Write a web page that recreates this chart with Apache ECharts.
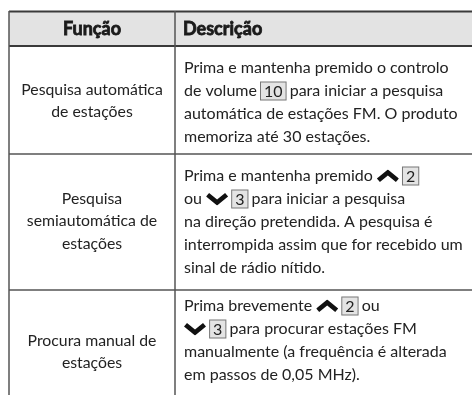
<!DOCTYPE html>
<html><head><meta charset="utf-8">
<script src="https://cdn.jsdelivr.net/npm/echarts@6/dist/echarts.min.js"></script>
<style>html,body{margin:0;padding:0;background:#fff}#c{width:472px;height:395px}</style>
</head><body><div id="c"></div>
<script>
// ---- data ----
var headers = ['Função', 'Descrição'];
var functions = [
  ['Pesquisa automática', 'de estações'],
  ['Pesquisa', 'semiautomática de', 'estações'],
  ['Procura manual de', 'estações']
];
// tokens: {up}, {down}, [n] = boxed reference number
var descriptions = [
  ['Prima e mantenha premido o controlo',
   'de volume [10] para iniciar a pesquisa',
   'automática de estações FM. O produto',
   'memoriza até 30 estações.'],
  ['Prima e mantenha premido {up} [2]',
   'ou {down} [3] para iniciar a pesquisa',
   'na direção pretendida. A pesquisa é',
   'interrompida assim que for recebido um',
   'sinal de rádio nítido.'],
  ['Prima brevemente {up} [2] ou',
   '{down} [3] para procurar estações FM',
   'manualmente (a frequência é alterada',
   'em passos de 0,05 MHz).']
];

(function () {
// ---- layout ----
var FONT = 'Lato';
var FS = 16;
var FSL = 15.8;
var X0 = 9, colDiv = 175, X1 = 490;
var rowTops = [11, 46, 154, 290, 420];
var lineH = 23;
var textX = 184;

function svgUrl(path) {
  var s = '<svg xmlns="http://www.w3.org/2000/svg" width="44" height="26" viewBox="0 0 44 26"><path d="' + path + '" fill="#111"/></svg>';
  return 'data:image/svg+xml;charset=utf-8,' + encodeURIComponent(s);
}
var upImg = svgUrl('M22 0 L44 18 L38 25 L22 12 L6 25 L0 18 Z');
var downImg = svgUrl('M22 26 L44 8 L38 1 L22 14 L6 1 L0 8 Z');

var rich = {
  t: {fontFamily: FONT, fontSize: FS, fill: '#222'},
  box: {fontFamily: FONT, fontSize: FS, fill: '#222', backgroundColor: '#e4e4e4',
        borderColor: '#777', borderWidth: 1, padding: [1, 3, 0, 3], lineHeight: 18},
  up: {backgroundColor: {image: upImg}, width: 22, height: 13},
  down: {backgroundColor: {image: downImg}, width: 22, height: 13}
};

function toRich(line) {
  var out = '';
  var re = /(\{up\}|\{down\}|\[\d+\])/g;
  var last = 0, m;
  while ((m = re.exec(line)) !== null) {
    if (m.index > last) out += '{t|' + line.slice(last, m.index) + '}';
    var tok = m[0];
    if (tok === '{up}') out += '{up|}';
    else if (tok === '{down}') out += '{down|}';
    else out += '{box|' + tok.slice(1, -1) + '}';
    last = m.index + tok.length;
  }
  if (last < line.length) out += '{t|' + line.slice(last) + '}';
  return out;
}

var chart = echarts.init(document.getElementById('c'));
chart.setOption({animation: false, series: []});
var zr = chart.getZr();
var G = echarts.graphic;
function add(el) { zr.add(el); }

add(new G.Rect({shape: {x: X0, y: rowTops[0], width: X1 - X0, height: rowTops[1] - rowTops[0]},
  style: {fill: '#e3e3e3'}, silent: true}));
var hy = (rowTops[0] + rowTops[1]) / 2 + 0.5;
var hStyle = {fontFamily: FONT, fontWeight: 'bold', fontSize: 18, fill: '#1a1a1a',
  stroke: '#1a1a1a', lineWidth: 0.8, verticalAlign: 'middle'};
add(new G.Text({x: (X0 + colDiv) / 2, y: hy, style: echarts.util.extend({text: headers[0], align: 'center'}, hStyle)}));
add(new G.Text({x: textX - 1, y: hy, style: echarts.util.extend({text: headers[1], align: 'left'}, hStyle)}));

var leftOffsets = [1, -1, 0];
for (var r = 0; r < functions.length; r++) {
  var rt = rowTops[r + 1], rb = rowTops[r + 2];
  var cy = r === 2 ? 352 : (rt + rb) / 2 + leftOffsets[r];
  var fl = functions[r];
  for (var i = 0; i < fl.length; i++) {
    add(new G.Text({x: (X0 + colDiv) / 2, y: cy + (i - (fl.length - 1) / 2) * 22.5,
      style: {text: fl[i], fontFamily: FONT, fontSize: FSL, fill: '#222', align: 'center', verticalAlign: 'middle'}}));
  }
  var dl = descriptions[r];
  var firstY = rt + (r === 2 ? 16 : 22);
  for (var j = 0; j < dl.length; j++) {
    add(new G.Text({x: textX, y: firstY + j * lineH,
      style: {text: toRich(dl[j]), rich: rich, align: 'left', verticalAlign: 'middle'}}));
  }
}

function hline(y, c, w) {
  add(new G.Line({shape: {x1: X0, y1: y, x2: X1, y2: y}, style: {stroke: c, lineWidth: w}, silent: true}));
}
function vline(x, y1, y2, c, w) {
  add(new G.Line({shape: {x1: x, y1: y1, x2: x, y2: y2}, style: {stroke: c, lineWidth: w}, silent: true}));
}
hline(rowTops[0] + 0.5, '#3a3a3a', 2);
hline(rowTops[1], '#3a3a3a', 2);
hline(rowTops[2], '#555', 1.3);
hline(rowTops[3], '#555', 1.3);
vline(X0, rowTops[0], 400, '#555', 1.5);
vline(colDiv, rowTops[0], 400, '#555', 1.5);
})();
</script></body></html>
